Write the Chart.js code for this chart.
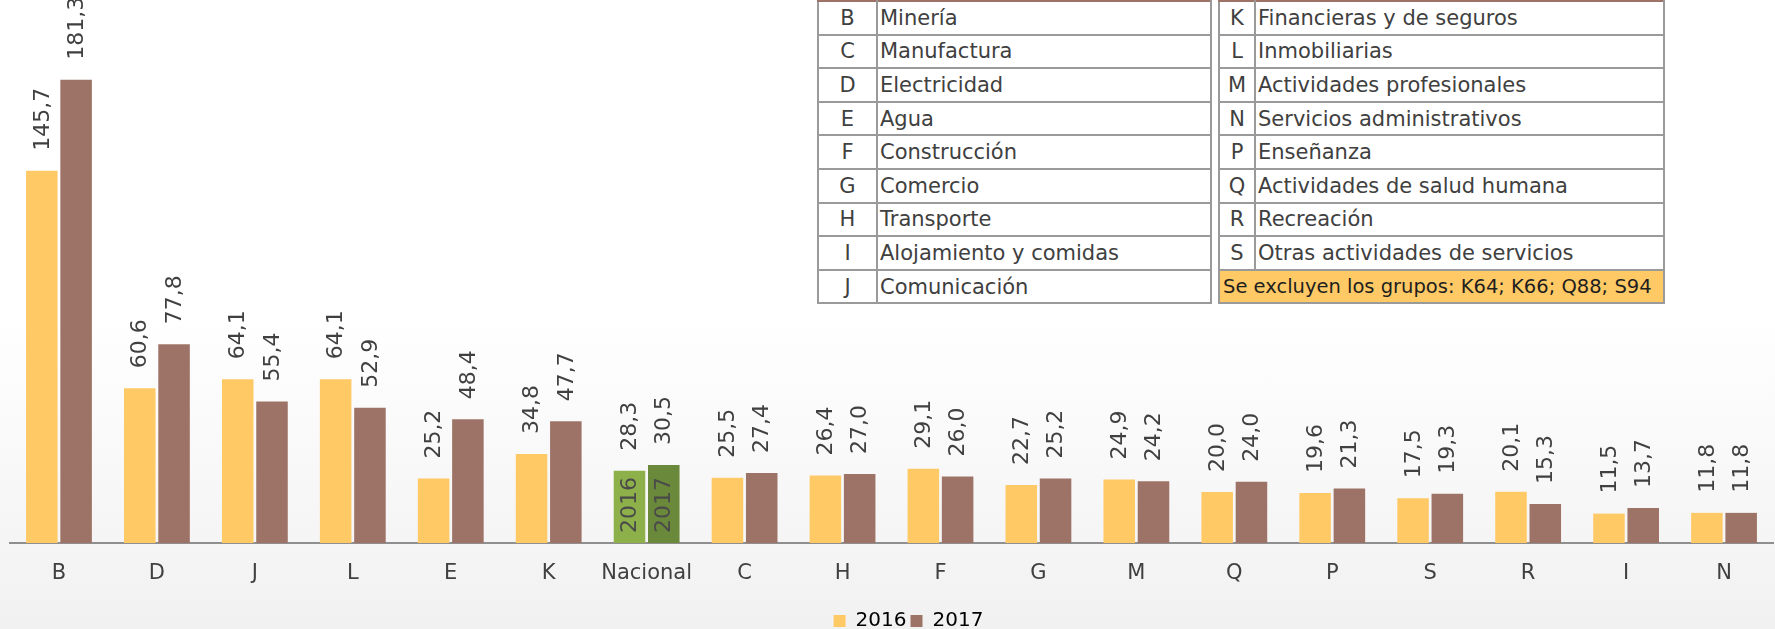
<!DOCTYPE html>
<html>
<head>
<meta charset="utf-8">
<script src="https://cdn.jsdelivr.net/npm/chart.js@4/dist/chart.umd.min.js"></script>
<style>
    html, body { margin: 0; padding: 0; }
    body {
        width: 1775px; height: 629px; overflow: hidden; position: relative;
        background: linear-gradient(#ffffff 0%, #ffffff 50%, #f1f1f1 100%);
        font-family: "DejaVu Sans", sans-serif;
    }
    #wrap { position: absolute; left: 0; top: 0; width: 1775px; height: 629px; }
    table.codes {
        position: absolute; top: 0; border-collapse: collapse; table-layout: fixed;
        font-size: 21px; color: #404040; background: #fff;
    }
    table.codes td {
        border: 2px solid #9a9a9a; height: 31.6px; padding: 0 2px; white-space: nowrap; overflow: hidden;
    }
    table.codes td.code { text-align: center; }
    table.codes tr:first-child td { border-top-color: #9e7266; }
    table.codes td.note { background: #ffca66; color: #1e1e1e; font-size: 19.5px; padding-left: 3px; }
</style>
</head>
<body>
<div id="wrap"><canvas id="chart" width="1775" height="629"></canvas></div>
<table class="codes" id="tableLeft" style="left:817px; width:395px;"></table>
<table class="codes" id="tableRight" style="left:1218px; width:447px;"></table>
<script>
document.addEventListener("DOMContentLoaded", function() {
    const categories = ["B", "D", "J", "L", "E", "K", "Nacional", "C", "H", "F", "G", "M", "Q", "P", "S", "R", "I", "N"];
    const values2016 = [145.7, 60.6, 64.1, 64.1, 25.2, 34.8, 28.3, 25.5, 26.4, 29.1, 22.7, 24.9, 20.0, 19.6, 17.5, 20.1, 11.5, 11.8];
    const values2017 = [181.3, 77.8, 55.4, 52.9, 48.4, 47.7, 30.5, 27.4, 27.0, 26.0, 25.2, 24.2, 24.0, 21.3, 19.3, 15.3, 13.7, 11.8];
    const seriesNames = ["2016", "2017"];

    const leftCodes = ["B", "C", "D", "E", "F", "G", "H", "I", "J"];
    const leftNames = ["Minería", "Manufactura", "Electricidad", "Agua", "Construcción", "Comercio", "Transporte", "Alojamiento y comidas", "Comunicación"];
    const rightCodes = ["K", "L", "M", "N", "P", "Q", "R", "S"];
    const rightNames = ["Financieras y de seguros", "Inmobiliarias", "Actividades profesionales", "Servicios administrativos", "Enseñanza", "Actividades de salud humana", "Recreación", "Otras actividades de servicios"];
    const note = "Se excluyen los grupos: K64; K66; Q88; S94";

    function fillTable(id, codes, names, codeWidth, extra) {
        const table = document.getElementById(id);
        let html = "";
        codes.forEach((c, i) => {
            html += `<tr><td class="code" style="width:${codeWidth}px">${c}</td><td>${names[i]}</td></tr>`;
        });
        if (extra) html += `<tr><td class="note" colspan="2">${extra}</td></tr>`;
        table.innerHTML = html;
    }
    fillTable("tableLeft", leftCodes, leftNames, 53);
    fillTable("tableRight", rightCodes, rightNames, 30, note);

    const yellow = "#ffca66";
    const brown = "#9e7367";
    const natIndex = categories.indexOf("Nacional");
    const colors2016 = categories.map((c, i) => i === natIndex ? "#8db04a" : yellow);
    const colors2017 = categories.map((c, i) => i === natIndex ? "#6b893a" : brown);

    const fmt = v => v.toFixed(1).replace(".", ",");

    // rotated value labels above the bars, year labels inside the Nacional bars
    const valueLabels = {
        id: "valueLabels",
        afterLayout(chart) {
            // legend sits lower and a bit right of centre in the original
            chart.legend.left += 17;
            chart.legend.right += 17;
            chart.legend.top += 12;
            chart.legend.bottom += 12;
        },
        afterDatasetsDraw(chart) {
            const ctx = chart.ctx;
            ctx.save();
            ctx.font = '22px "DejaVu Sans"';
            ctx.textBaseline = "middle";
            chart.data.datasets.forEach((ds, di) => {
                const meta = chart.getDatasetMeta(di);
                meta.data.forEach((bar, i) => {
                    ctx.save();
                    ctx.fillStyle = "#404040";
                    ctx.textAlign = "left";
                    ctx.translate(bar.x + 1, bar.y - 20);
                    ctx.rotate(-Math.PI / 2);
                    ctx.fillText(fmt(ds.data[i]), 0, 0);
                    ctx.restore();
                    if (i === natIndex) {
                        ctx.save();
                        ctx.fillStyle = "#4a4a4a";
                        ctx.textAlign = "left";
                        ctx.translate(bar.x + 1, bar.base - 10);
                        ctx.rotate(-Math.PI / 2);
                        ctx.fillText(ds.label, 0, 0);
                        ctx.restore();
                    }
                });
            });
            ctx.restore();
        }
    };

    new Chart(document.getElementById("chart").getContext("2d"), {
        type: "bar",
        data: {
            labels: categories,
            datasets: [
                { label: seriesNames[0], data: values2016, backgroundColor: colors2016 },
                { label: seriesNames[1], data: values2017, backgroundColor: colors2017 }
            ]
        },
        options: {
            responsive: false,
            animation: false,
            categoryPercentage: 0.7,
            barPercentage: 0.92,
            layout: { padding: { left: 10, right: 2, top: 32, bottom: 0 } },
            scales: {
                x: {
                    grid: { display: false, drawTicks: false },
                    border: { display: true, color: "#8f8f8f", width: 2 },
                    ticks: { color: "#404040", font: { family: "DejaVu Sans", size: 21 }, padding: 18, maxRotation: 0 },
                    afterFit: scale => { scale.height = 52; }
                },
                y: { display: false, min: 0, max: 200 }
            },
            plugins: {
                legend: {
                    position: "bottom",
                    labels: {
                        color: "#404040",
                        font: { family: "DejaVu Sans", size: 20 },
                        boxWidth: 12, boxHeight: 12, padding: 4,
                        generateLabels: chart => chart.data.datasets.map((ds, i) => ({
                            text: ds.label,
                            fillStyle: i === 0 ? yellow : brown,
                            strokeStyle: "rgba(0,0,0,0)",
                            lineWidth: 0,
                            datasetIndex: i
                        }))
                    }
                },
                tooltip: { enabled: false }
            }
        },
        plugins: [valueLabels]
    });
});
</script>
</body>
</html>
